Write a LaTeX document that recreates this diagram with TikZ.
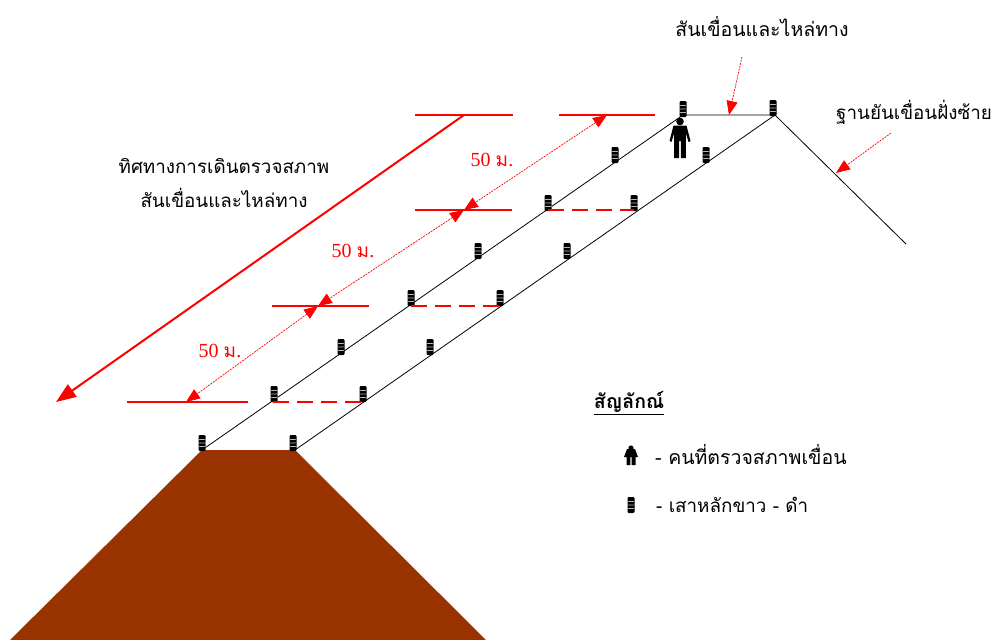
\documentclass[tikz,border=0pt]{standalone}
\usepackage{fontspec}
\usetikzlibrary{arrows.meta}
\newfontfamily\thaifont[Script=Thai]{Loma}
\setmainfont{Liberation Serif}
\definecolor{dam}{HTML}{993300}
\tikzset{
  line/.style={draw=black,line width=0.8pt},
  redthick/.style={draw=red,line width=2pt},
  reddash/.style={draw=red,line width=2pt,dash pattern=on 16pt off 8pt},
  redthin/.style={draw=red,line width=0.7pt,dash pattern=on 2pt off 1pt},
  tip/.style={-{Triangle[length=14pt,width=11pt]}},
  ttext/.style={inner sep=0pt,font=\thaifont\fontsize{19.5}{27}\selectfont,text=black,align=center},
  tsmall/.style={inner sep=0pt,font=\thaifont\fontsize{18.8}{34}\selectfont,text=black,align=center},
  rtext/.style={inner sep=0pt,font=\fontsize{20}{22}\selectfont,text=red},
  post/.style={rectangle,rounded corners=1.2pt,inner sep=0pt,minimum width=7pt,minimum height=16pt,fill=black,
    path picture={\foreach \q in {-3.5,0,3.5}{\fill[gray!55] ([yshift=\q pt-0.35pt]path picture bounding box.west) rectangle ([yshift=\q pt+0.35pt]path picture bounding box.east);}}},
  pics/person/.style={code={
    \fill[black] (0,-16.5) circle (3.8);
    \fill[black] (-6.5,-12.5) -- (6.5,-12.5) -- (10.5,3) -- (8.5,4) -- (5.8,-5) -- (5.8,20) -- (0.9,20) -- (0.9,3) -- (-0.9,3) -- (-0.9,20) -- (-5.8,20) -- (-5.8,-5) -- (-8.5,4) -- (-10.5,3) -- cycle;
  }},
  pics/smallperson/.style={code={
    \fill[black] (0,-7) circle (2.6);
    \fill[black] (-4,-6) -- (4,-6) -- (7,2) -- (4.5,2) -- (4.5,10) -- (0.6,10) -- (0.6,2) -- (-0.6,2) -- (-0.6,10) -- (-4.5,10) -- (-4.5,2) -- (-7,2) -- cycle;
  }},
}
\begin{document}
\begin{tikzpicture}[x=1pt,y=-1pt]
\useasboundingbox (0,0) rectangle (997,640);
% dam body
\fill[dam] (202,450) -- (295,450) -- (486,640) -- (10,640) -- cycle;
% named corners
\coordinate (lb) at (202,450);
\coordinate (rb) at (295,450);
\coordinate (lt) at (683,115);
\coordinate (rt) at (775,115);
\coordinate (toe) at (906,244);
\draw[line] (lb) -- (lt) -- (rt) -- (rb);
\draw[line] (rt) -- (toe);
% red levels
\coordinate (a1) at (127,402); \coordinate (a2) at (248,402);
\coordinate (b1) at (272,306); \coordinate (b2) at (369,306);
\coordinate (c1) at (415,210); \coordinate (c2) at (512,210);
\coordinate (d1) at (415,115); \coordinate (d2) at (513,115);
\coordinate (e1) at (559,115); \coordinate (e2) at (655,115);
\draw[redthick] (a1) -- (a2);
\draw[redthick] (b1) -- (b2);
\draw[redthick] (c1) -- (c2);
\draw[redthick] (d1) -- (d2);
\draw[redthick] (e1) -- (e2);
% posts
\foreach \n/\x/\y in {p1/202/443,p2/274/394,p3/341/347,p4/411/298,p5/478/251,p6/548/203,p7/615/155,p8/683/109,
  q1/293/443,q2/363/394,q3/430/347,q4/500/298,q5/567/251,q6/634/203,q7/706/155,q8/773/108}
  \node[post] (\n) at (\x,\y) {};
% dashes
\coordinate (f1) at (273,402); \coordinate (f2) at (363,402);
\coordinate (g1) at (411,306); \coordinate (g2) at (500,306);
\coordinate (h1) at (548,210); \coordinate (h2) at (634,210);
\draw[reddash] (f1) -- (f2);
\draw[reddash] (g1) -- (g2);
\draw[reddash] (h1) -- (h2);
% walking direction
\coordinate (w1) at (464,115); \coordinate (w2) at (56,402);
\draw[redthick,-{Triangle[length=20pt,width=15pt]}] (w1) -- (w2);
% 50 m arrows
\coordinate (m0) at (186,402); \coordinate (m1) at (318,306); \coordinate (m2) at (464,210); \coordinate (m3) at (607,115);
\draw[redthin,{Triangle[length=14pt,width=11pt]}-{Triangle[length=14pt,width=11pt]}] (m1) -- (m0);
\draw[redthin,{Triangle[length=14pt,width=11pt]}-{Triangle[length=14pt,width=11pt]}] (m2) -- (m1);
\draw[redthin,{Triangle[length=14pt,width=11pt]}-{Triangle[length=14pt,width=11pt]}] (m3) -- (m2);
% callouts
\coordinate (k1) at (742,57); \coordinate (k2) at (729,115);
\coordinate (j1) at (891,133); \coordinate (j2) at (836,173);
\draw[redthin,tip] (k1) -- (k2);
\draw[redthin,tip] (j1) -- (j2);
% labels
\node[rtext] (m50a) at (220,351) {50 {\thaifont\fontsize{19}{22}\selectfont ม}.};
\node[rtext] (m50b) at (353,251) {50 {\thaifont\fontsize{19}{22}\selectfont ม}.};
\node[rtext] (m50c) at (492,160) {50 {\thaifont\fontsize{19}{22}\selectfont ม}.};
\node[ttext] (t1) at (762,27) {สันเขื่อนและไหล่ทาง};
\node[tsmall] (t2) at (914,112) {ฐานยันเขื่อนฝั่งซ้าย};
\node[tsmall] (t3) at (224,183) {ทิศทางการเดินตรวจสภาพ\\สันเขื่อนและไหล่ทาง};
\node[ttext] (t4) at (629,403) {\bfseries\underline{สัญลักณ์}};
\node[ttext,anchor=west] (t5) at (655,455) {- คนที่ตรวจสภาพเขื่อน};
\node[tsmall,anchor=west] (t6) at (656,505) {- เสาหลักขาว - ดำ};
% symbols
\pic at (680,138) {person};
\pic at (631,455) {smallperson};
\node[post] (legendpost) at (631,505) {};
\end{tikzpicture}
\end{document}
